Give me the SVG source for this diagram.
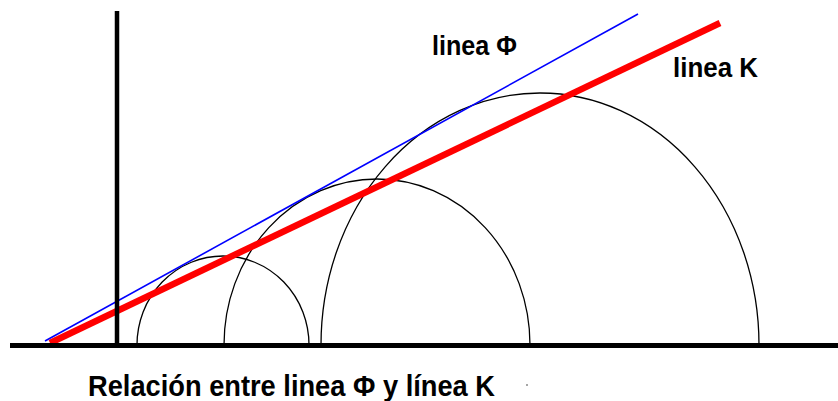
<svg xmlns="http://www.w3.org/2000/svg" width="838" height="401" viewBox="0 0 838 401">
<style>
.arc{fill:none;stroke:#000;stroke-width:1.3}
.lbl{font-family:"Liberation Sans",Arial,sans-serif;font-weight:bold;fill:#000}
</style>
<rect width="838" height="401" fill="#fff"/>
<g id="circles">
<path class="arc" d="M137 345 A86 89 0 0 1 309 345"/>
<path class="arc" d="M224 345 A153 166 0 0 1 530 345"/>
<path class="arc" d="M321 345 A219 252 0 0 1 759 345"/>
</g>
<g id="lines">
<line id="linea-phi" x1="45" y1="341" x2="638" y2="14" stroke="#0000ff" stroke-width="1.6"/>
<line id="linea-k" x1="50" y1="343" x2="720" y2="23" stroke="#ff0000" stroke-width="6.5"/>
</g>
<g id="axes">
<line x1="117" y1="11" x2="117" y2="346" stroke="#000" stroke-width="4.5"/>
<line x1="10" y1="345.5" x2="838" y2="345.5" stroke="#000" stroke-width="5"/>
</g>
<g id="labels">
<text class="lbl" x="432" y="55" font-size="28" textLength="85" lengthAdjust="spacingAndGlyphs">linea Φ</text>
<text class="lbl" x="673" y="77" font-size="28" textLength="85" lengthAdjust="spacingAndGlyphs">linea K</text>
<text class="lbl" x="88" y="396" font-size="30" textLength="407" lengthAdjust="spacingAndGlyphs">Relación entre linea Φ y línea K</text>
<circle cx="527" cy="385" r="1" fill="#888"/>
</g>
</svg>
